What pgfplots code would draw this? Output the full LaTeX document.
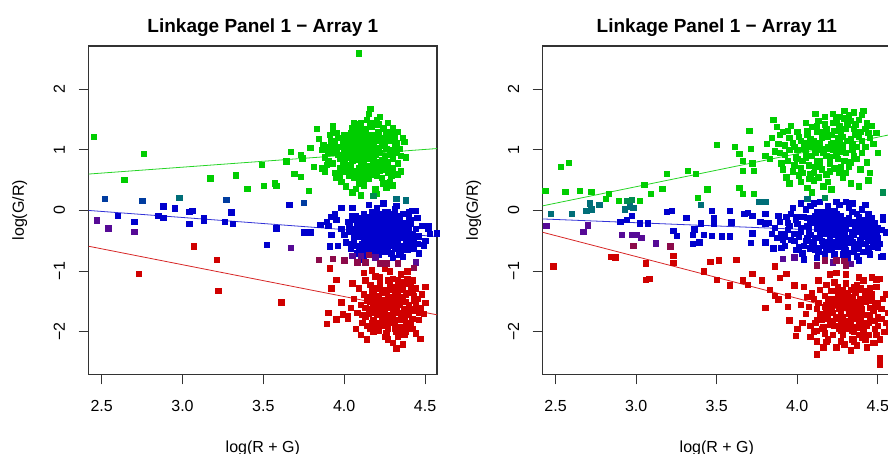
\documentclass[border=0pt]{standalone}
\usepackage{fontspec}
\setmainfont{Liberation Sans}
\usepackage{pgfplots}
\pgfplotsset{compat=1.18}

\definecolor{rgreen}{HTML}{00CD00}
\definecolor{rblue}{HTML}{0000CD}
\definecolor{rred}{HTML}{D00000}
\definecolor{rpurple}{HTML}{560A96}
\definecolor{rmaroon}{HTML}{8C0A4A}
\definecolor{rteal}{HTML}{006E78}
\definecolor{rdkgreen}{HTML}{008C50}
\definecolor{rdkblue}{HTML}{003CA0}

\pgfplotsset{
  panel/.style={
    scale only axis,
    width=348.3bp, height=328.3bp,
    ymin=-2.70, ymax=2.71,
    xtick={2.5,3,3.5,4,4.5},
    xticklabels={2.5,3.0,3.5,4.0,4.5},
    ytick={-2,-1,0,1,2},
    yticklabels={−2,−1,0,1,2},
    tick align=outside,
    xtick pos=bottom, ytick pos=left,
    major tick length=10bp,
    tick style={black!80, line width=1bp},
    axis line style={black!80, line width=1.2bp},
    tick label style={font=\fontsize{16bp}{19bp}\selectfont},
    xticklabel style={anchor=base},
    yticklabel style={rotate=90, anchor=base},
    xticklabel shift=26.7bp,
    yticklabel shift=13.7bp,
    label style={font=\fontsize{16bp}{19bp}\selectfont},
    xlabel={log(R + G)},
    ylabel={log(G/R)},
    xlabel style={at={(axis description cs:0.5,0)}, anchor=base, yshift=-77.7bp},
    ylabel style={at={(axis description cs:-0.1858,0.5)}, anchor=base},
    title style={at={(axis description cs:0.5,1)}, anchor=base, yshift=7.7bp,
      font=\bfseries\fontsize{19bp}{22bp}\selectfont},
  },
  pts/.style={only marks, mark=square*, mark size=2.7bp,
    mark options={line width=0.2bp}},
  fit/.style={no marks, line width=0.8bp},
}

\begin{document}
\begin{tikzpicture}
\useasboundingbox (0,0) rectangle (888bp,454bp);
\clip (0,0) rectangle (888bp,454bp);

%-----------------------------
% Array 1
%-----------------------------
\begin{axis}[panel, at={(88.7bp,79.7bp)}, anchor=south west,
  xmin=2.42, xmax=4.574,
  title={Linkage Panel 1 − Array 1}]

\addplot[fit, rgreen!85!white] coordinates {(2.42,0.60) (4.574,1.02)};
\addplot[fit, rblue!80!white] coordinates {(2.42,0.00) (4.574,-0.43)};
\addplot[fit, rred!85!white] coordinates {(2.42,-0.59) (4.574,-1.72)};

% green cluster and stragglers
\addplot[pts, rgreen] coordinates {
(4.12,0.95) (4.05,1.10) (4.18,0.82) (4.09,0.71) (4.15,1.21) (4.02,0.88)
(4.21,1.03) (4.08,1.32) (4.13,0.62) (3.98,1.05) (4.25,0.90) (4.11,1.15)
(4.04,0.76) (4.17,1.38) (4.07,0.99) (4.19,0.68) (4.00,1.24) (4.14,0.85)
(4.23,1.12) (4.06,0.55) (4.10,1.45) (3.96,0.92) (4.28,1.00) (4.16,0.74)
(4.03,1.18) (4.20,0.58) (4.09,1.05) (4.13,1.28) (3.99,0.80) (4.26,1.30)
(4.01,0.64) (4.18,1.08) (4.08,0.87) (4.22,0.78) (4.05,1.36) (4.15,0.96)
(3.94,1.12) (4.11,0.50) (4.24,1.20) (4.07,1.22) (4.30,0.86) (3.97,0.70)
(4.14,1.50) (4.02,1.00) (4.19,0.92) (4.12,0.72) (4.27,0.62) (3.92,0.95)
(4.06,0.66) (4.16,1.13) (4.10,0.80) (4.21,1.42) (4.04,0.93) (4.23,0.54)
(3.95,1.28) (4.13,1.04) (4.08,1.12) (4.17,0.60) (4.00,0.85) (4.32,1.12)
(4.11,0.90) (4.25,0.74) (3.90,0.82) (4.18,1.25) (4.06,1.45) (4.14,0.68)
(4.03,0.58) (4.20,0.98) (4.09,0.45) (4.28,0.48) (3.86,1.00) (4.15,1.60)
(4.35,0.90) (4.01,0.40) (4.12,1.18) (4.22,1.55) (3.88,0.65) (4.26,0.38)
(4.05,0.30) (4.33,0.60) (3.93,1.40) (4.19,0.35) (4.10,0.25) (4.37,1.13)
(3.84,1.18) (4.24,0.45) (3.81,0.72) (4.16,1.68) (4.30,0.42) (4.07,0.36)
(4.27,0.80) (3.98,0.48) (4.20,0.28)
(4.11,1.00) (4.14,1.08) (4.07,0.92) (4.19,1.15) (4.03,1.05) (4.16,0.88)
(4.09,1.20) (4.22,0.95) (4.05,0.82) (4.13,1.35) (4.18,0.70) (4.00,0.95)
(4.25,1.08) (4.08,0.65) (4.15,1.25) (4.10,0.58) (4.21,1.30) (4.04,1.28)
(4.17,0.98) (4.12,0.78) (4.06,1.14) (4.23,0.84) (3.99,1.15) (4.14,0.60)
(4.20,1.20) (4.02,0.72) (4.26,1.18) (4.09,0.84) (4.16,1.45) (4.11,1.26)
(4.07,1.02) (4.19,0.80) (4.13,0.92) (4.24,1.36) (3.97,0.85) (4.10,1.36)
(4.28,0.92) (4.05,0.98) (4.18,1.02) (4.15,0.52) (4.01,1.10) (4.22,0.66)
(4.08,1.42) (4.12,1.10) (4.26,1.02) (3.95,1.02) (4.17,0.85) (4.03,0.62)
(4.20,1.50) (4.10,0.70) (4.29,1.25) (4.06,0.88) (4.14,1.16) (4.00,0.75)
(4.23,0.72) (4.12,0.42) (4.18,1.42) (4.31,1.05) (3.93,0.78) (4.09,0.55)
(3.90,0.98) (3.92,1.15) (3.88,0.88) (3.94,0.62) (3.91,1.25) (3.87,1.08)
(3.95,0.55) (3.89,0.76) (3.93,1.32) (3.86,0.70) (4.28,1.15) (4.30,0.70)
(4.32,0.95) (4.27,1.28) (4.34,1.02) (4.29,0.58) (4.31,1.22) (4.33,0.78)
(4.36,1.20) (4.26,0.68) (4.35,0.65) (4.30,1.36) (4.38,0.88) (3.96,1.20)
(3.97,0.58) (4.27,1.45) (3.91,1.05) (4.33,1.30)
(2.45,1.22) (2.76,0.94) (2.64,0.51) (3.17,0.53) (3.33,0.58) (3.40,0.36)
(3.49,0.76) (3.50,0.41) (3.57,0.45) (3.58,0.41) (3.64,0.81) (3.67,0.97)
(3.69,0.61) (3.73,0.56) (3.73,0.92) (3.74,0.86) (3.78,0.33) (3.79,1.04)
(3.83,1.35) (4.09,2.59)
};

% blue cluster and stragglers
\addplot[pts, rblue] coordinates {
(4.24,-0.35) (4.15,-0.20) (4.30,-0.48) (4.20,-0.10) (4.35,-0.30) (4.10,-0.42)
(4.27,-0.22) (4.18,-0.55) (4.33,-0.12) (4.05,-0.30) (4.40,-0.40) (4.22,-0.62)
(4.12,-0.05) (4.28,-0.35) (4.08,-0.58) (4.38,-0.20) (4.25,-0.02) (4.16,-0.38)
(4.31,-0.60) (4.02,-0.18) (4.42,-0.52) (4.20,-0.28) (4.14,-0.68) (4.36,-0.05)
(4.26,-0.45) (4.06,-0.48) (4.33,-0.25) (4.19,-0.15) (4.29,-0.70) (4.11,-0.25)
(4.40,-0.10) (4.23,-0.50) (4.17,-0.02) (4.34,-0.42) (4.00,-0.40) (4.44,-0.30)
(4.21,-0.40) (4.09,-0.12) (4.30,-0.15) (4.13,-0.52) (4.37,-0.58) (4.25,-0.25)
(4.04,-0.62) (4.32,-0.35) (4.18,-0.30) (4.27,-0.62) (4.07,-0.08) (4.39,-0.45)
(4.22,-0.18) (4.15,-0.45) (4.35,-0.68) (4.24,-0.08) (4.12,-0.35) (4.29,-0.28)
(4.03,-0.25) (4.41,-0.22) (4.20,-0.65) (4.31,0.02) (4.16,-0.60) (4.26,-0.52)
(4.10,-0.65) (4.36,-0.35) (4.19,-0.42) (4.28,-0.08) (4.06,-0.38) (4.43,-0.62)
(4.23,-0.30) (4.14,-0.15) (4.33,-0.52) (4.21,-0.72) (3.98,-0.30) (4.46,-0.42)
(4.25,-0.60) (4.08,-0.22) (4.38,-0.28) (4.17,-0.22) (4.30,-0.40) (4.01,-0.52)
(4.34,-0.18) (4.22,-0.45) (4.12,-0.75) (4.45,-0.12) (4.27,-0.15) (4.05,0.05)
(4.39,-0.65) (3.95,-0.15) (4.20,0.05) (4.48,-0.25) (4.30,-0.78) (3.96,-0.58)
(4.15,0.10) (4.42,0.00) (3.92,-0.40) (4.32,0.08) (4.50,-0.50) (4.10,-0.80)
(3.94,-0.05) (4.24,0.12) (4.53,-0.38) (4.36,-0.76) (3.90,-0.25) (4.46,-0.70)
(4.24,-0.28) (4.20,-0.35) (4.28,-0.42) (4.16,-0.30) (4.32,-0.28) (4.12,-0.48)
(4.26,-0.12) (4.22,-0.55) (4.36,-0.45) (4.09,-0.32) (4.30,-0.55) (4.18,-0.20)
(4.40,-0.32) (4.14,-0.58) (4.26,-0.38) (4.34,-0.08) (4.07,-0.42) (4.21,-0.05)
(4.38,-0.52) (4.11,-0.18) (4.29,-0.20) (4.17,-0.48) (4.33,-0.62) (4.23,-0.42)
(4.05,-0.55) (4.41,-0.15) (4.19,-0.62) (4.27,-0.30) (4.13,-0.10) (4.37,-0.38)
(4.25,-0.68) (4.09,-0.60) (4.31,-0.45) (4.20,-0.18) (4.43,-0.45) (4.15,-0.35)
(4.35,-0.22) (4.23,-0.22) (4.06,-0.15) (4.28,-0.58) (4.18,-0.40) (4.39,-0.58)
(4.11,-0.55) (4.32,-0.18) (4.26,-0.50) (4.14,-0.25) (4.42,-0.38) (4.21,-0.32)
(4.08,-0.70) (4.30,-0.05) (4.36,-0.62) (4.16,-0.12) (4.24,-0.58) (4.03,-0.35)
(4.45,-0.55) (4.19,-0.50) (4.33,-0.38) (4.27,-0.02) (4.12,-0.40) (4.40,-0.02)
(4.22,-0.10) (4.34,-0.72) (4.17,-0.70) (4.29,-0.48) (4.05,-0.08)
(3.66,0.10) (2.60,-0.08) (2.70,-0.18) (2.88,0.07) (2.95,0.04) (3.04,-0.02)
(3.06,0.00) (2.85,-0.08) (2.88,-0.12) (3.13,-0.12) (3.13,-0.16) (3.26,-0.18)
(3.30,-0.03) (3.31,-0.22) (3.04,-0.22) (3.58,-0.29) (3.52,-0.56) (3.75,-0.36)
(3.79,-0.36) (3.91,-0.59) (3.85,-0.23) (3.89,-0.18) (3.92,-0.10) (3.98,0.05)
(4.44,0.00) (4.52,-0.26) (4.52,-0.30) (4.57,-0.37) (4.49,-0.57)
};

% red cluster and stragglers
\addplot[pts, rred] coordinates {
(4.29,-1.60) (4.20,-1.45) (4.35,-1.75) (4.25,-1.30) (4.38,-1.50) (4.15,-1.62)
(4.31,-1.88) (4.22,-1.20) (4.40,-1.35) (4.18,-1.80) (4.27,-1.42) (4.34,-1.98)
(4.12,-1.38) (4.43,-1.65) (4.24,-1.70) (4.30,-1.12) (4.16,-1.95) (4.36,-1.28)
(4.21,-1.55) (4.41,-1.85) (4.28,-1.85) (4.10,-1.55) (4.33,-1.40) (4.19,-1.08)
(4.45,-1.45) (4.26,-2.02) (4.37,-1.62) (4.13,-1.75) (4.32,-1.25) (4.23,-1.90)
(4.39,-1.12) (4.17,-1.32) (4.28,-1.52) (4.42,-1.95) (4.08,-1.68) (4.35,-1.05)
(4.21,-1.72) (4.30,-1.72) (4.14,-1.48) (4.44,-1.28) (4.25,-1.58) (4.33,-2.08)
(4.19,-1.40) (4.40,-1.72) (4.27,-1.15) (4.11,-1.85) (4.36,-1.45) (4.23,-1.35)
(4.31,-1.95) (4.16,-1.22) (4.47,-1.60) (4.29,-1.30) (4.06,-1.45) (4.38,-1.88)
(4.22,-1.62) (4.34,-1.55) (4.18,-2.00) (4.43,-1.40) (4.26,-1.78) (4.13,-1.15)
(4.32,-1.65) (4.20,-1.28) (4.41,-1.25) (4.09,-1.28) (4.37,-2.05) (4.24,-1.48)
(4.46,-1.80) (4.15,-1.70) (4.30,-1.45) (4.04,-1.60) (4.35,-1.18) (4.21,-1.98)
(4.48,-1.38) (4.27,-2.12) (4.12,-1.02) (4.39,-1.00) (4.02,-1.78) (4.44,-2.02)
(4.17,-0.98) (4.30,-2.18) (4.50,-1.52) (4.07,-1.95) (4.25,-0.95) (4.36,-2.20)
(4.05,-1.20) (4.49,-1.70) (4.10,-2.05) (4.42,-1.15) (4.28,-1.00) (4.14,-2.12)
(4.29,-1.55) (4.25,-1.65) (4.33,-1.48) (4.21,-1.40) (4.37,-1.70) (4.27,-1.88)
(4.18,-1.58) (4.40,-1.55) (4.31,-1.35) (4.23,-1.78) (4.35,-1.92) (4.15,-1.42)
(4.28,-1.22) (4.42,-1.78) (4.20,-1.95) (4.32,-1.58) (4.26,-1.48) (4.38,-1.38)
(4.17,-1.85) (4.30,-1.80) (4.22,-1.28) (4.44,-1.55) (4.34,-1.68) (4.19,-1.68)
(4.27,-1.95) (4.36,-1.22) (4.13,-1.60) (4.29,-1.42) (4.41,-1.62) (4.24,-1.50)
(4.32,-2.00) (4.16,-1.50) (4.39,-1.92) (4.26,-1.32) (4.21,-1.85) (4.34,-1.30)
(4.30,-1.65) (4.11,-1.72) (4.43,-1.48) (4.28,-1.72) (4.18,-1.30) (4.37,-1.80)
(4.23,-1.62) (4.33,-1.15) (4.25,-2.08) (4.40,-1.20) (4.14,-1.90) (4.31,-1.88)
(4.20,-1.70) (4.46,-1.68) (4.35,-1.42) (4.27,-1.58) (4.22,-1.10) (4.38,-2.00)
(4.16,-1.65) (4.30,-1.28) (4.42,-1.32) (4.24,-1.82) (4.19,-1.48) (4.34,-1.80)
(3.07,-0.59) (3.21,-0.81) (2.73,-1.04) (3.22,-1.32) (3.61,-1.51) (3.89,-1.86)
(3.90,-1.68) (3.95,-1.79) (3.92,-1.28) (3.91,-0.95) (3.95,-1.14) (3.98,-1.51)
(3.99,-1.71) (4.02,-1.73) (4.32,-2.27) (4.47,-2.11) (4.50,-1.25)
};

% mixed-colour spots
\addplot[pts, rpurple] coordinates {
(2.47,-0.16) (2.54,-0.29) (2.70,-0.35) (3.67,-0.61) (4.05,-0.74) (4.10,-0.74)
(4.44,-0.85) (4.19,-0.77)
};
\addplot[pts, rmaroon] coordinates {
(3.84,-0.81) (3.93,-0.79) (4.00,-0.82) (4.08,-0.85) (4.13,-0.85) (4.22,-0.87)
(4.26,-0.87) (4.33,-0.87) (4.43,-0.94) (4.15,-0.73)
};
\addplot[pts, rteal] coordinates {(2.98,0.21) (4.32,0.20) (4.38,0.17)};
\addplot[pts, rdkgreen] coordinates {(4.18,0.24)};
\addplot[pts, rdkblue] coordinates {(2.52,0.20) (2.75,0.16) (3.27,0.18) (3.75,0.13)};
\end{axis}

%-----------------------------
% Array 11
%-----------------------------
\begin{axis}[panel, at={(542.7bp,79.7bp)}, anchor=south west,
  xmin=2.42, xmax=4.582,
  title={Linkage Panel 1 − Array 11}]

\addplot[fit, rgreen!85!white] coordinates {(2.42,0.076) (4.582,1.252)};
\addplot[fit, rblue!80!white] coordinates {(2.42,-0.14) (4.582,-0.371)};
\addplot[fit, rred!85!white] coordinates {(2.42,-0.36) (4.582,-1.85)};

\addplot[pts, rgreen] coordinates {
(4.16,1.02) (4.05,0.88) (4.25,1.20) (4.10,1.15) (4.30,0.95) (3.98,1.05)
(4.20,0.78) (4.35,1.35) (4.02,0.70) (4.14,1.30) (4.28,1.08) (3.92,0.92)
(4.22,1.45) (4.08,0.60) (4.40,1.15) (4.18,0.90) (3.95,1.20) (4.32,0.72)
(4.12,1.40) (4.26,0.62) (4.00,1.00) (4.38,1.50) (4.06,1.25) (4.24,0.98)
(3.88,1.10) (4.15,0.68) (4.34,1.00) (4.19,1.22) (4.03,0.82) (4.44,1.28)
(4.11,0.95) (4.29,1.52) (3.90,0.78) (4.21,1.10) (4.09,1.38) (4.37,0.85)
(3.97,0.65) (4.27,1.30) (4.13,0.55) (4.42,1.05) (4.04,1.12) (4.23,0.70)
(3.86,0.98) (4.33,1.18) (4.17,1.55) (4.07,0.75) (4.39,0.68) (3.94,1.32)
(4.20,1.02) (4.46,1.40) (4.01,0.58) (4.31,1.42) (4.12,1.08) (3.84,1.20)
(4.25,0.85) (4.10,0.50) (4.36,1.25) (3.99,0.88) (4.18,1.35) (4.43,0.80)
(4.05,1.45) (4.28,0.55) (3.91,0.68) (4.22,1.60) (4.14,0.82) (4.40,1.58)
(3.83,0.85) (4.30,0.62) (4.07,1.05) (4.47,1.10) (3.96,1.40) (4.19,0.48)
(4.35,1.62) (4.02,0.48) (4.26,1.15) (3.89,1.25) (4.45,0.62) (4.11,1.60)
(3.81,1.10) (4.33,0.45) (4.16,0.40) (4.41,1.65) (3.93,0.55) (4.24,1.50)
(4.49,1.28) (4.06,0.38) (3.80,0.90) (4.38,0.40) (4.13,1.48) (3.87,1.38)
(4.29,1.65) (4.00,1.30) (4.44,0.50) (4.21,0.35) (3.95,0.45) (4.50,0.95)
(4.09,0.30) (3.85,1.50) (4.32,1.58)
(4.16,0.95) (4.10,1.05) (4.22,1.12) (4.05,0.95) (4.28,1.22) (4.00,0.85)
(4.18,1.28) (4.12,0.82) (4.34,1.10) (3.95,1.00) (4.24,0.90) (4.08,1.18)
(4.30,1.35) (4.14,1.12) (4.02,1.15) (4.20,0.65) (4.38,1.22) (3.92,1.08)
(4.26,1.40) (4.11,0.72) (4.35,0.90) (4.06,1.32) (4.21,1.25) (3.98,0.75)
(4.29,0.82) (4.15,1.20) (4.42,1.35) (4.03,0.62) (4.19,1.05) (4.33,1.48)
(3.89,0.95) (4.25,1.08) (4.09,0.90) (4.37,1.05) (4.13,1.00) (4.01,1.22)
(4.27,0.72) (4.17,1.42) (4.40,0.95) (3.94,0.82) (4.23,1.32) (4.07,0.52)
(4.31,1.15) (4.20,0.88) (3.97,1.12) (4.36,1.42) (4.12,1.30) (4.04,1.02)
(4.28,0.98) (4.45,1.20) (4.18,0.60) (3.91,1.30) (4.26,1.55) (4.10,0.62)
(4.39,1.30) (4.14,0.75) (4.33,0.80) (4.06,1.10) (4.22,1.00) (4.43,1.45)
(2.435,0.33) (2.53,0.72) (2.58,0.79) (2.56,0.31) (2.65,0.33) (2.72,0.31)
(2.83,0.28) (2.81,0.20) (2.89,0.16) (3.02,0.16) (3.05,0.43) (3.09,0.28)
(3.16,0.36) (3.19,0.61) (3.32,0.66) (3.37,0.61) (3.38,0.21) (3.44,0.35)
(3.50,1.09) (3.61,1.05) (3.64,0.94) (3.66,0.82) (3.66,0.66) (3.64,0.38)
(3.66,0.28) (3.70,1.32) (3.71,1.02) (3.72,0.78) (3.73,0.66) (3.73,0.28)
};

\addplot[pts, rblue] coordinates {
(4.22,-0.33) (4.10,-0.20) (4.32,-0.45) (4.15,-0.50) (4.28,-0.15) (4.02,-0.35)
(4.40,-0.28) (4.18,-0.05) (4.35,-0.60) (4.06,-0.12) (4.25,-0.55) (4.45,-0.40)
(3.95,-0.25) (4.20,-0.40) (4.38,-0.10) (4.12,-0.62) (4.30,-0.30) (3.98,-0.50)
(4.48,-0.20) (4.08,-0.40) (4.24,-0.18) (4.42,-0.55) (3.90,-0.38) (4.16,-0.28)
(4.34,-0.02) (4.04,-0.58) (4.27,-0.42) (4.52,-0.32) (3.93,-0.10) (4.19,-0.65)
(4.37,-0.35) (4.11,-0.08) (4.29,-0.62) (4.00,-0.22) (4.44,-0.05) (4.14,-0.38)
(4.33,-0.22) (3.87,-0.45) (4.23,0.00) (4.47,-0.60) (4.07,-0.30) (4.21,-0.52)
(4.39,-0.48) (3.96,-0.05) (4.26,-0.28) (4.13,-0.15) (4.31,-0.70) (4.01,-0.42)
(4.50,-0.45) (4.17,-0.72) (4.36,-0.18) (3.92,-0.58) (4.09,-0.52) (4.27,-0.08)
(4.43,-0.25) (4.05,0.02) (4.20,-0.25) (4.34,-0.52) (3.89,-0.18) (4.15,-0.02)
(4.41,-0.68) (4.11,-0.45) (4.29,-0.38) (3.99,-0.65) (4.46,-0.12) (4.23,-0.60)
(4.06,-0.25) (4.38,-0.62) (3.94,-0.32) (4.18,-0.12) (4.32,0.05) (4.03,-0.70)
(4.25,-0.45) (4.49,-0.38) (3.86,-0.28) (4.13,-0.68) (4.35,-0.40) (4.08,0.08)
(4.21,-0.08) (4.44,-0.50) (3.91,-0.48) (4.28,-0.72) (4.16,-0.58) (4.40,0.02)
(4.00,-0.10) (4.26,0.10) (4.12,-0.78) (4.37,-0.75) (3.84,-0.38) (4.19,0.08)
(4.47,-0.30) (4.04,-0.80) (4.31,-0.80) (3.88,-0.08) (4.42,0.10) (4.10,0.12)
(4.22,-0.85) (4.51,-0.55) (3.82,-0.20) (4.34,0.12) (3.97,0.05) (4.45,-0.72)
(4.14,0.15) (4.24,0.15) (3.80,-0.52) (4.38,-0.82) (4.02,0.12) (4.30,0.15)
(4.53,-0.15) (3.85,-0.62)
(4.22,-0.28) (4.18,-0.38) (4.28,-0.25) (4.12,-0.30) (4.34,-0.35) (4.06,-0.45)
(4.40,-0.42) (4.16,-0.18) (4.30,-0.52) (4.02,-0.28) (4.45,-0.30) (4.20,-0.48)
(4.25,-0.10) (4.10,-0.55) (4.36,-0.25) (3.98,-0.38) (4.32,-0.12) (4.14,-0.42)
(4.42,-0.15) (4.08,-0.20) (4.27,-0.60) (4.19,-0.28) (4.38,-0.55) (4.04,-0.10)
(4.48,-0.48) (4.23,-0.40) (4.11,-0.65) (4.33,-0.45) (3.96,-0.48) (4.29,-0.32)
(4.15,-0.08) (4.44,-0.62) (4.21,-0.62) (4.07,-0.35) (4.37,-0.05) (4.26,-0.38)
(4.01,-0.60) (4.31,-0.20) (4.17,-0.52) (4.46,-0.22) (4.13,-0.25) (4.35,-0.68)
(4.24,-0.05) (4.09,-0.12) (4.41,-0.35) (3.94,-0.20) (4.28,-0.45) (4.18,-0.62)
(4.50,-0.28) (4.05,-0.50) (4.39,-0.18) (4.20,-0.15) (4.30,-0.65) (4.12,-0.02)
(4.43,-0.42) (3.99,-0.15) (4.26,-0.50) (4.15,-0.32) (4.34,-0.02) (4.47,-0.52)
(4.23,-0.72) (4.08,-0.62) (4.36,-0.30) (3.92,-0.42) (4.19,-0.02)
(3.19,-0.02) (3.22,0.00) (3.31,-0.12) (3.47,0.00) (3.48,-0.12) (3.58,0.00)
(3.59,-0.19) (3.67,-0.05) (3.69,-0.04) (3.72,-0.08) (3.80,-0.05) (3.77,-0.18)
(3.80,-0.21) (2.90,-0.18) (2.94,-0.15) (2.97,-0.08) (3.02,-0.21) (3.07,-0.21)
(3.40,-0.21) (3.48,-0.21) (3.23,-0.33) (3.25,-0.41) (3.35,-0.40) (3.36,-0.31)
(3.39,-0.52) (3.35,-0.55) (3.42,-0.40) (3.47,-0.41) (3.53,-0.42) (3.58,-0.42)
(3.71,-0.53) (3.72,-0.37) (3.90,-0.61) (4.50,-0.61) (4.52,-0.76) (4.53,-0.75)
(4.53,-0.10) (4.55,-0.36)
};

\addplot[pts, rred] coordinates {
(4.32,-1.70) (4.20,-1.55) (4.40,-1.85) (4.25,-1.35) (4.45,-1.60) (4.15,-1.80)
(4.35,-2.00) (4.28,-1.48) (4.50,-1.75) (4.10,-1.45) (4.38,-1.30) (4.22,-2.05)
(4.48,-1.95) (4.18,-1.65) (4.30,-1.20) (4.42,-1.50) (4.08,-1.90) (4.33,-1.58)
(4.55,-1.85) (4.24,-1.75) (4.14,-1.30) (4.37,-1.92) (4.27,-2.15) (4.46,-1.38)
(4.12,-1.62) (4.34,-1.42) (4.20,-1.88) (4.52,-1.62) (4.05,-1.70) (4.40,-2.10)
(4.29,-1.82) (4.17,-1.40) (4.44,-1.72) (4.23,-1.18) (4.36,-1.65) (4.10,-2.00)
(4.49,-2.05) (4.26,-1.55) (4.13,-1.52) (4.39,-1.45) (4.31,-1.95) (4.53,-1.45)
(4.19,-2.12) (4.43,-1.90) (4.07,-1.58) (4.35,-1.25) (4.22,-1.68) (4.47,-2.18)
(4.16,-1.92) (4.30,-1.60) (4.41,-1.15) (4.09,-1.35) (4.27,-1.98) (4.54,-2.00)
(4.21,-1.45) (4.37,-2.22) (4.03,-1.85) (4.45,-1.28) (4.28,-1.30) (4.12,-2.15)
(4.33,-1.82) (4.50,-1.52) (4.18,-1.22) (4.40,-1.62) (4.24,-2.25) (4.06,-1.42)
(4.36,-1.78) (4.56,-1.68) (4.15,-1.72) (4.29,-1.40) (4.44,-2.05) (4.11,-1.85)
(4.34,-2.12) (4.20,-1.05) (4.48,-1.82) (4.25,-1.90) (4.02,-1.55) (4.38,-1.10)
(4.16,-2.25) (4.31,-1.50) (4.51,-2.12) (4.13,-1.15) (4.42,-1.38) (4.27,-1.62)
(4.08,-2.08) (4.46,-1.10) (4.22,-1.32) (4.36,-1.52) (4.55,-1.38) (4.19,-1.78)
(4.33,-2.30) (4.04,-1.25) (4.43,-2.25) (4.24,-1.02) (4.12,-1.98) (4.39,-1.75)
(4.57,-1.92) (4.17,-1.58) (4.30,-1.05) (4.49,-1.25)
(4.32,-1.65) (4.28,-1.75) (4.36,-1.60) (4.24,-1.50) (4.40,-1.72) (4.30,-1.88)
(4.20,-1.68) (4.44,-1.85) (4.34,-1.45) (4.26,-1.95) (4.38,-2.05) (4.18,-1.55)
(4.31,-1.35) (4.47,-1.65) (4.22,-1.82) (4.35,-1.72) (4.29,-1.58) (4.42,-1.42)
(4.15,-1.95) (4.33,-1.92) (4.25,-1.40) (4.50,-1.90) (4.37,-1.50) (4.21,-1.62)
(4.28,-2.05) (4.39,-1.28) (4.14,-1.70) (4.32,-1.52) (4.45,-1.75) (4.27,-1.68)
(4.35,-2.15) (4.19,-1.45) (4.41,-2.00) (4.30,-1.40) (4.23,-1.90) (4.36,-1.35)
(4.33,-1.78) (4.12,-1.80) (4.48,-1.58) (4.31,-1.82) (4.21,-1.32) (4.40,-1.92)
(4.26,-1.62) (4.37,-1.22) (4.29,-2.20) (4.43,-1.32) (4.17,-2.02) (4.34,-1.98)
(4.24,-1.78) (4.52,-1.78) (4.39,-1.55) (4.31,-1.60) (4.25,-1.25) (4.42,-2.12)
(4.19,-1.75) (4.33,-1.30) (4.46,-1.48) (4.27,-1.85) (4.22,-1.55) (4.38,-1.85)
(2.485,-0.92) (2.84,-0.76) (2.87,-0.77) (3.06,-0.87) (3.06,-1.14) (3.08,-1.12)
(3.23,-0.74) (3.23,-0.86) (3.42,-1.00) (3.46,-0.84) (3.51,-0.82) (3.62,-0.81)
(3.50,-1.14) (3.58,-1.23) (3.66,-1.15) (3.69,-1.22) (3.72,-1.04) (3.78,-1.15)
(3.80,-1.60) (3.83,-1.30) (3.86,-0.92) (3.86,-1.40) (3.88,-1.46) (3.89,-1.11)
(3.93,-1.04) (3.94,-1.40) (3.94,-1.58) (3.95,-1.81) (3.98,-1.23) (3.99,-2.06)
(4.00,-1.95) (4.12,-2.37) (4.18,-2.16) (4.51,-2.42) (4.51,-2.53) (4.48,-2.18)
(4.49,-1.13) (4.51,-1.12)
};

\addplot[pts, rteal] coordinates {
(2.71,0.12) (2.77,0.10) (2.69,0.00) (2.72,0.02) (2.96,0.07) (2.93,0.02)
(2.98,0.05) (3.76,0.15) (3.80,0.15) (3.40,0.10) (4.06,0.20) (2.47,-0.05)
(2.60,-0.05)
};
\addplot[pts, rdkgreen] coordinates {(2.94,0.16) (2.97,0.18) (4.17,0.21) (4.53,0.30)};
\addplot[pts, rpurple] coordinates {
(2.44,-0.25) (2.70,-0.24) (2.67,-0.35) (2.91,-0.40) (2.97,-0.40) (3.00,-0.40)
(3.03,-0.45) (3.12,-0.54) (3.91,-0.79) (3.98,-0.77) (4.22,-0.85) (4.33,-0.88)
};
\addplot[pts, rmaroon] coordinates {
(2.98,-0.58) (3.21,-0.59) (4.17,-0.82) (4.24,-0.82) (4.30,-0.90) (4.12,-0.90)
(4.29,-0.83)
};
\end{axis}

\end{tikzpicture}
\end{document}
